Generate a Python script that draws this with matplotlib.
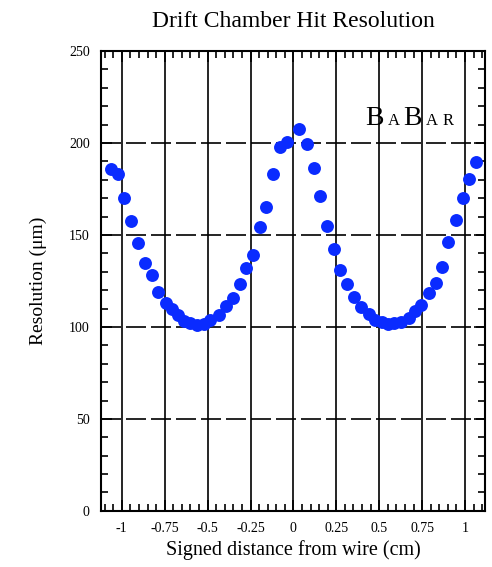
import numpy as np
import matplotlib.pyplot as plt
from matplotlib.offsetbox import TextArea, HPacker, AnchoredOffsetbox

# signed distance from wire (cm) and hit resolution (um)
dist = [-1.063, -1.024, -0.985, -0.946, -0.904, -0.867, -0.826, -0.787, -0.742,
        -0.707, -0.675, -0.640, -0.601, -0.562, -0.523, -0.484, -0.436, -0.391,
        -0.352, -0.313, -0.278, -0.237, -0.197, -0.157, -0.118, -0.080, -0.037,
        0.035, 0.080, 0.122, 0.157, 0.197, 0.239, 0.274, 0.313, 0.352, 0.395,
        0.439, 0.478, 0.517, 0.550, 0.589, 0.628, 0.672, 0.706, 0.745, 0.789,
        0.828, 0.867, 0.902, 0.945, 0.987, 1.026, 1.064]
resol = [185.7, 183.0, 170.3, 157.8, 145.8, 134.6, 128.1, 119.2, 112.9,
         109.9, 106.5, 103.4, 101.9, 101.1, 101.6, 103.8, 106.5, 111.4,
         115.6, 123.4, 131.9, 139.1, 154.2, 165.4, 183.0, 198.0, 200.4,
         207.6, 199.5, 186.6, 171.2, 154.9, 142.2, 131.0, 123.4, 116.5, 111.0,
         106.9, 103.8, 102.6, 101.6, 102.3, 102.9, 105.1, 108.7, 112.0, 118.3,
         124.1, 132.8, 146.0, 158.2, 169.9, 180.4, 189.4]

xticks = [-1, -0.75, -0.5, -0.25, 0, 0.25, 0.5, 0.75, 1]
xticklabels = ['-1', '-0.75', '-0.5', '-0.25', '0', '0.25', '0.5', '0.75', '1']
yticks = [0, 50, 100, 150, 200, 250]

plt.rcParams['font.family'] = ['Liberation Serif', 'DejaVu Serif']

fig = plt.figure(figsize=(4.92, 5.67), dpi=100)
ax = fig.add_axes([0.205, 0.099, 0.781, 0.811])

# grid: solid verticals, dashed horizontals
for xv in xticks:
    ax.axvline(xv, color='black', lw=1.2, zorder=1)
for yv in yticks:
    ax.axhline(yv, color='black', lw=1.2, dashes=(12, 3), zorder=1)

ax.plot(dist, resol, 'o', color='#0a2bff', markersize=9.3, markeredgewidth=0, zorder=3)

ax.set_xlim(-1.122, 1.117)
ax.set_ylim(0, 250)
ax.set_xticks(xticks)
ax.set_xticklabels(xticklabels)
ax.set_xticks(np.arange(-1.1, 1.11, 0.05), minor=True)
ax.set_yticks(yticks)
ax.set_yticks(np.arange(0, 251, 10), minor=True)
ax.tick_params(which='both', direction='in', top=True, right=True, labelsize=10,
               color='black', width=1.2)
ax.tick_params(which='major', length=8)
ax.tick_params(which='minor', length=5)
ax.tick_params(axis='x', pad=8)
ax.tick_params(axis='y', pad=8)
for s in ax.spines.values():
    s.set_linewidth(1.5)

ax.set_xlabel('Signed distance from wire (cm)', fontsize=14.5, labelpad=4)
ax.set_ylabel('Resolution (\u03bcm)', fontsize=14, labelpad=16)
ax.set_title('Drift Chamber Hit Resolution', fontsize=17, pad=17)

# BaBar logo
letters = [('B', 20), ('A', 12), ('B', 20), ('A', 12), ('R', 12)]
parts = [TextArea(ch, textprops=dict(fontsize=sz)) for ch, sz in letters]
logo = HPacker(children=parts, align='baseline', pad=0, sep=3)
box = AnchoredOffsetbox(loc='upper right', child=logo, frameon=False,
                        bbox_to_anchor=(0.932, 0.893), bbox_transform=ax.transAxes,
                        borderpad=0)
ax.add_artist(box)

fig.savefig('out.png', dpi=100)
